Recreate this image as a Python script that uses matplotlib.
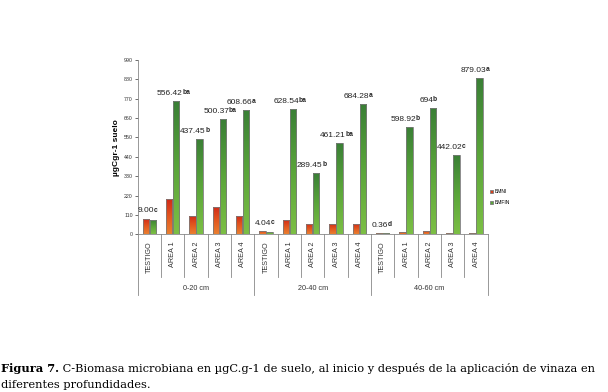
import numpy as np
import matplotlib
matplotlib.use("Agg")
import matplotlib.pyplot as plt
from matplotlib.colors import LinearSegmentedColormap

categories = ["TESTIGO", "AREA 1", "AREA 2", "AREA 3", "AREA 4"] * 3
groups = ["0-20 cm", "20-40 cm", "40-60 cm"]
bmni = [89, 199, 106, 157, 104, 19, 81, 57, 61, 59, 9, 15, 19, 9, 9]
bmfin = [81, 755, 543, 653, 706, 15, 710, 346, 520, 740, 6, 611, 716, 450, 888]
label_nums = ["9.00", "556.42", "437.45", "500.37", "608.66",
              "4.04", "628.54", "289.45", "461.21", "684.28",
              "0.36", "598.92", "694", "442.02", "879.03"]
label_letters = ["c", "ba", "b", "ba", "a",
                 "c", "ba", "b", "ba", "a",
                 "d", "b", "b", "c", "a"]
yticks = list(range(0, 991, 110))

plt.rcParams['font.family'] = ['Liberation Sans', 'DejaVu Sans']

fig = plt.figure(figsize=(6.08, 3.92), dpi=100)
ax = fig.add_axes([0.2265, 0.4023, 0.5757, 0.4447])

x = np.arange(len(categories))
w = 0.28
red_cmap = LinearSegmentedColormap.from_list("r", ["#d02818", "#e2561f", "#ea8030"])
green_cmap = LinearSegmentedColormap.from_list("g", ["#3a7f36", "#5aa53a", "#7cbf45"])

bars_r = ax.bar(x - 0.15, bmni, w, color="#d8401c", edgecolor="#7a7a7a", linewidth=0.6, label="BMNI", zorder=3)
bars_g = ax.bar(x + 0.15, bmfin, w, color="#5aa53a", edgecolor="#7a7a7a", linewidth=0.6, label="BMFIN", zorder=3)

grad = np.linspace(0, 1, 100).reshape(-1, 1)
for bars, cmap in ((bars_r, red_cmap), (bars_g, green_cmap)):
    for b in bars:
        x0, y0 = b.get_x(), b.get_y()
        bw, bh = b.get_width(), b.get_height()
        im = ax.imshow(grad, cmap=cmap, aspect='auto', origin='upper',
                       extent=[x0, x0 + bw, y0, y0 + bh], zorder=3.5)
        im.set_clip_path(b)
        b.set_facecolor("none")
        b.set_zorder(4)

ax.set_xlim(-0.5, len(categories) - 0.5)
ax.set_ylim(0, 990)
ax.set_yticks(yticks)
ax.tick_params(axis='y', labelsize=3.8, length=2, width=0.5, pad=1.5, colors="#333333")
ax.set_xticks([])
for s in ("top", "right"):
    ax.spines[s].set_visible(False)
ax.spines["left"].set_color("#888888")
ax.spines["left"].set_linewidth(0.6)
ax.spines["bottom"].set_color("#888888")
ax.spines["bottom"].set_linewidth(0.6)

ax.set_ylabel("µgCgr-1 suelo", fontsize=6, fontweight='bold', labelpad=3)

# value labels (number, then bold letter right after it)
num_texts = []
for i in range(len(categories)):
    top = max(bmni[i], bmfin[i])
    t = ax.annotate(label_nums[i], xy=(x[i], top), xytext=(-2.2, 3),
                    textcoords='offset points', ha='center', va='bottom',
                    fontsize=6, color="#222222", zorder=5)
    num_texts.append(t)

# category labels and separators below the axis
trans = ax.get_xaxis_transform()
for i, c in enumerate(categories):
    ax.text(x[i], -0.04, c, rotation=90, ha='center', va='top', fontsize=5.2,
            color="#333333", transform=trans)
for k in range(len(categories) + 1):
    edge = k - 0.5
    ymin = -0.35 if k % 5 == 0 else -0.245
    ax.plot([edge, edge], [0, ymin], transform=trans, color="#888888",
            linewidth=0.6, clip_on=False)
for g, name in enumerate(groups):
    ax.text(g * 5 + 2, -0.31, name, ha='center', va='center', fontsize=5.2,
            color="#333333", transform=trans)

leg = fig.legend(handles=[bars_r, bars_g], labels=["BMNI", "BMFIN"],
                 loc='center left', bbox_to_anchor=(0.798, 0.497), frameon=False,
                 fontsize=3.6, handlelength=0.6, handleheight=0.6, handletextpad=0.3,
                 labelspacing=1.3)
leg.legend_handles[0].set_facecolor("#d8401c")
leg.legend_handles[1].set_facecolor("#5aa53a")

cap_font = ['DejaVu Serif']
cap_size = 8.2
t1 = fig.text(0.002, 0.05, "Figura 7.", fontsize=cap_size, fontweight='bold',
              family=cap_font, va='baseline', ha='left')
fig.text(0.002, 0.01, "diferentes profundidades.", fontsize=cap_size, family=cap_font,
         va='baseline', ha='left')

fig.canvas.draw()
renderer = fig.canvas.get_renderer()
for t, letter in zip(num_texts, label_letters):
    bb = t.get_window_extent(renderer)
    px, py = bb.x1 - 0.4, bb.y0 + 0.9
    fig.text(px / fig.bbox.width, py / fig.bbox.height, letter, ha='left', va='bottom',
             fontsize=4.8, fontweight='bold', color="#222222")
bb1 = t1.get_window_extent(renderer)
fig.text((bb1.x1) / fig.bbox.width, 0.05,
         " C-Biomasa microbiana en µgC.g-1 de suelo, al inicio y después de la aplicación de vinaza en",
         fontsize=cap_size, family=cap_font, va='baseline', ha='left')

fig.savefig("out.png", dpi=100)
